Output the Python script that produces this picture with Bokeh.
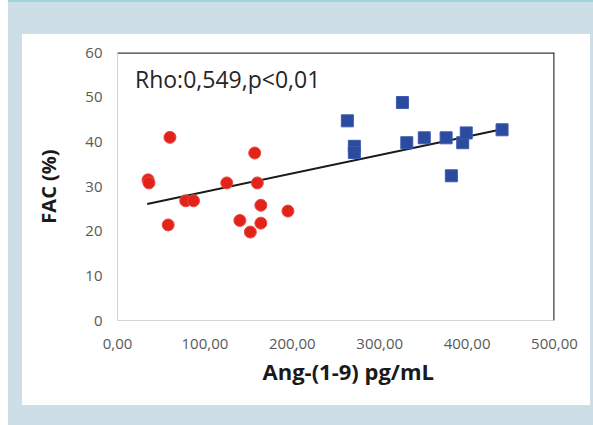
from bokeh.plotting import figure
from bokeh.models import Range1d, FixedTicker, Span, Div, Title
from bokeh.layouts import row, column
from bokeh.core.properties import value
from bokeh.embed import file_html
from bokeh.resources import INLINE

# Red group: Ang-(1-9) (pg/mL) vs FAC (%)
red_x = [35, 36, 58, 60, 78, 87, 125, 140, 152, 157, 160, 164, 164, 195]
red_y = [31.5, 30.8, 21.4, 41.0, 26.8, 26.8, 30.8, 22.4, 19.8, 37.5, 30.8, 25.8, 21.8, 24.5]

# Blue group
blue_x = [263, 271, 271, 326, 331, 351, 376, 382, 395, 399, 440]
blue_y = [44.7, 39.0, 37.6, 48.8, 39.8, 40.9, 40.9, 32.4, 39.8, 42.0, 42.7]

# Linear trend line end points
trend_x = [34, 440]
trend_y = [26.1, 42.8]

x_ticks = [0, 100, 200, 300, 400, 500]
x_tick_labels = ["0,00", "100,00", "200,00", "300,00", "400,00", "500,00"]
y_ticks = [0, 10, 20, 30, 40, 50, 60]

annotation = "Rho:0,549,p<0,01"
x_title = "Ang-(1-9) pg/mL"
y_title = "FAC (%)"

FONT = "Open Sans"
PAGE_BLUE = "#cddee6"
TEAL = "#9fd4dc"

p = figure(
    width=568, height=371,
    x_range=Range1d(0, 500), y_range=Range1d(0, 60),
    output_backend="svg", toolbar_location=None,
    min_border_left=95, min_border_top=18, min_border_right=36, min_border_bottom=85,
    background_fill_color="white", border_fill_color="white",
    margin=0,
)
p.outline_line_color = None
p.grid.grid_line_color = None

p.xaxis.ticker = FixedTicker(ticks=x_ticks)
p.xaxis.major_label_overrides = {t: s for t, s in zip(x_ticks, x_tick_labels)}
p.yaxis.ticker = FixedTicker(ticks=y_ticks)

for ax in (p.xaxis, p.yaxis):
    ax.axis_line_color = "#d4d4d4"
    ax.axis_line_width = 1
    ax.major_tick_line_color = None
    ax.minor_tick_line_color = None
    ax.major_tick_out = 0
    ax.major_tick_in = 0
    ax.major_label_text_font = FONT
    ax.major_label_text_font_size = "15px"
    ax.major_label_text_color = "#595959"
    ax.axis_label_text_font = FONT
    ax.axis_label_text_font_size = "20px"
    ax.axis_label_text_font_style = "bold"
    ax.axis_label_text_color = "#1a1a1a"

p.yaxis.axis_label = y_title
p.xaxis.major_label_standoff = 18
p.yaxis.major_label_standoff = 15
p.yaxis.axis_label_standoff = 20

# x-axis title, set a little right of the plot centre below the tick labels
p.add_layout(Title(text=x_title, align="left", offset=145, standoff=4,
                   text_font=FONT, text_font_size="22px", text_font_style="bold",
                   text_color="#1a1a1a"), "below")

# Dark border along the top and right of the plot area
p.add_layout(Span(location=60, dimension="width", line_color="#3c3c3c", line_width=2.5))
p.add_layout(Span(location=500, dimension="height", line_color="#3c3c3c", line_width=2.5))

p.line(trend_x, trend_y, line_color="#1a1a1a", line_width=2)

p.scatter(red_x, red_y, marker="circle", size=12,
          fill_color="#e2231a", line_color="#e84a3f", line_width=1)
p.scatter(blue_x, blue_y, marker="square", size=12,
          fill_color="#2c4a9e", line_color="#3c5aae", line_width=1)

p.text(x=[20], y=[54], text=[annotation], text_font=value(FONT),
       text_font_size="23px", text_color="#262626", text_baseline="middle")

# Page framing around the chart panel
def block(w, h, color):
    return Div(width=w, height=h, margin=0, styles={"background-color": color})

layout = row(
    block(8, 425, "white"),
    column(
        block(585, 2, TEAL),
        block(585, 32, PAGE_BLUE),
        row(block(14, 371, PAGE_BLUE), p, block(3, 371, PAGE_BLUE), margin=0, spacing=0),
        block(585, 20, PAGE_BLUE),
        margin=0, spacing=0,
    ),
    margin=0, spacing=0,
)

open("out.html", "w").write(file_html(layout, INLINE))
